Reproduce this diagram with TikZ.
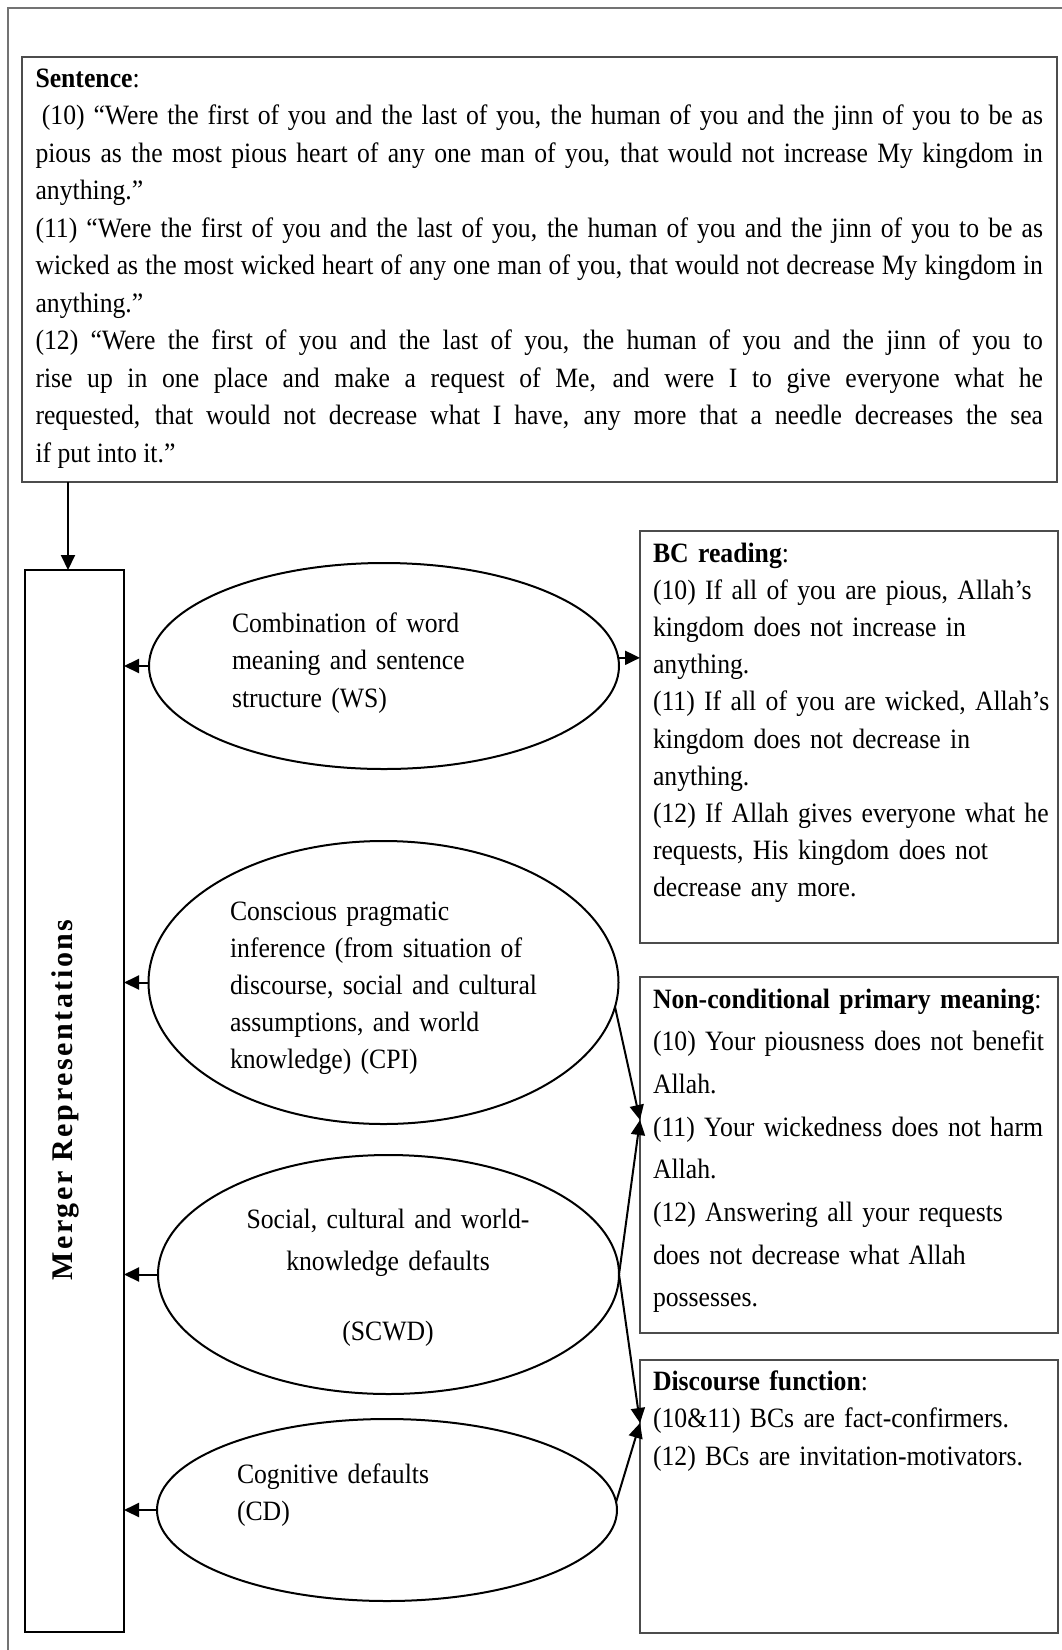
\documentclass[tikz,border=0pt]{standalone}
\usepackage{fontspec}
\setmainfont{Liberation Serif}
\newfontfamily\bodyfont{Liberation Serif}[FakeStretch=0.918]
\usetikzlibrary{arrows.meta,shapes.geometric}
\begin{document}
\begin{tikzpicture}[x=1pt,y=-1pt,
  frame/.style={draw=black!55, line width=1.4pt},
  tbox/.style={draw=black!70, line width=1.7pt, rectangle, inner sep=0pt, outer sep=0pt, anchor=north west},
  mbox/.style={draw=black, line width=2.2pt, rectangle, inner sep=0pt, outer sep=0pt, anchor=north west},
  ell/.style={draw=black, line width=2pt, ellipse, inner sep=0pt, outer sep=0pt},
  txt/.style={inner sep=0pt, outer sep=0pt, anchor=base west, align=left, text width=400pt,
    font=\bodyfont\fontsize{28}{37.5}\selectfont},
  arr/.style={line width=2pt, -{Triangle[length=15pt,width=14pt]}},
]
\useasboundingbox (0,0) rectangle (1062,1650);
\fill[white] (0,0) rectangle (1062,1650);
% outer frame
\draw[frame] (8,1650) -- (8,8) -- (1062,8);

% boxes
\node[tbox, minimum width=1035pt, minimum height=425pt] (sent) at (22,57) {};
\node[tbox, minimum width=418pt, minimum height=412pt] (bc) at (640,531) {};
\node[tbox, minimum width=418pt, minimum height=356pt] (ncpm) at (640,977) {};
\node[tbox, minimum width=418pt, minimum height=273pt] (df) at (640,1360) {};
\node[mbox, minimum width=99pt, minimum height=1062pt] (merger) at (25,570) {};

% ellipses
\node[ell, minimum width=470pt, minimum height=206pt] (ws) at (384,666) {};
\node[ell, minimum width=470pt, minimum height=283pt] (cpi) at (383.5,982.5) {};
\node[ell, minimum width=461pt, minimum height=239pt] (scwd) at (388.5,1274.5) {};
\node[ell, minimum width=460pt, minimum height=182pt] (cd) at (387,1510) {};

% texts
\node[txt, text width=1007.5pt, align=justify] (senttxt) at (35.5,87.3) {\textbf{Sentence}:\\
\hspace*{6.4pt}(10) “Were the first of you and the last of you, the human of you and the jinn of you to be as\linebreak
pious as the most pious heart of any one man of you, that would not increase My kingdom in\linebreak
anything.”\\
(11) “Were the first of you and the last of you, the human of you and the jinn of you to be as\linebreak
wicked as the most wicked heart of any one man of you, that would not decrease My kingdom in\linebreak
anything.”\\
(12) “Were the first of you and the last of you, the human of you and the jinn of you to\linebreak
rise up in one place and make a request of Me, and were I to give everyone what he\linebreak
requested, that would not decrease what I have, any more that a needle decreases the sea\linebreak
if put into it.”};

\node[txt, font=\bodyfont\fontsize{28}{37.2}\selectfont] (bctxt) at (653,562) {\textbf{BC reading}:\\
(10) If all of you are pious, Allah’s\\
kingdom does not increase in\\
anything.\\
(11) If all of you are wicked, Allah’s\\
kingdom does not decrease in\\
anything.\\
(12) If Allah gives everyone what he\\
requests, His kingdom does not\\
decrease any more.};

\node[txt, font=\bodyfont\fontsize{28}{42.7}\selectfont] (ncpmtxt) at (653,1008) {\textbf{Non-conditional primary meaning}:\\
(10) Your piousness does not benefit\\
Allah.\\
(11) Your wickedness does not harm\\
Allah.\\
(12) Answering all your requests\\
does not decrease what Allah\\
possesses.};

\node[txt] (dftxt) at (653,1390) {\textbf{Discourse function}:\\
(10\&11) BCs are fact-confirmers.\\
(12) BCs are invitation-motivators.};

\node[txt, text width=330pt] (wstxt) at (232,632) {Combination of word\\
meaning and sentence\\
structure (WS)};

\node[txt, text width=370pt, font=\bodyfont\fontsize{28}{37}\selectfont] (cpitxt) at (230,920) {Conscious pragmatic\\
inference (from situation of\\
discourse, social and cultural\\
assumptions, and world\\
knowledge) (CPI)};

\node[txt, anchor=base, align=center, text width=340pt, font=\bodyfont\fontsize{28}{42}\selectfont] (scwdtxt) at (388,1228) {Social, cultural and world-\\
knowledge defaults\\[28pt]
(SCWD)};

\node[txt, text width=300pt, font=\bodyfont\fontsize{28}{37}\selectfont] (cdtxt) at (237,1483) {Cognitive defaults\\
(CD)};

\node[rotate=90, anchor=base, inner sep=0pt,
  font=\fontsize{30}{31}\selectfont\bfseries\addfontfeature{LetterSpace=8.5}] (mtxt) at (72,1100) {Merger Representations};

% connectors
\coordinate (topx) at (68,0);
\coordinate (nin) at (640,1120);
\coordinate (din) at (640,1423);
\draw[arr] (sent.south -| topx) -- (merger.north -| topx);
\draw[arr] (ws.west) -- (ws.west -| merger.east);
\draw[arr] (cpi.west) -- (cpi.west -| merger.east);
\draw[arr] (scwd.west) -- (scwd.west -| merger.east);
\draw[arr] (cd.west) -- (cd.west -| merger.east);
\draw[arr] (ws.2) -- (ws.2 -| bc.west);
\draw[arr] (cpi.-6.5) -- (nin);
\draw[arr] (scwd.east) -- (nin);
\draw[arr] (scwd.east) -- (din);
\draw[arr] (cd.2) -- (din);
\end{tikzpicture}
\end{document}
